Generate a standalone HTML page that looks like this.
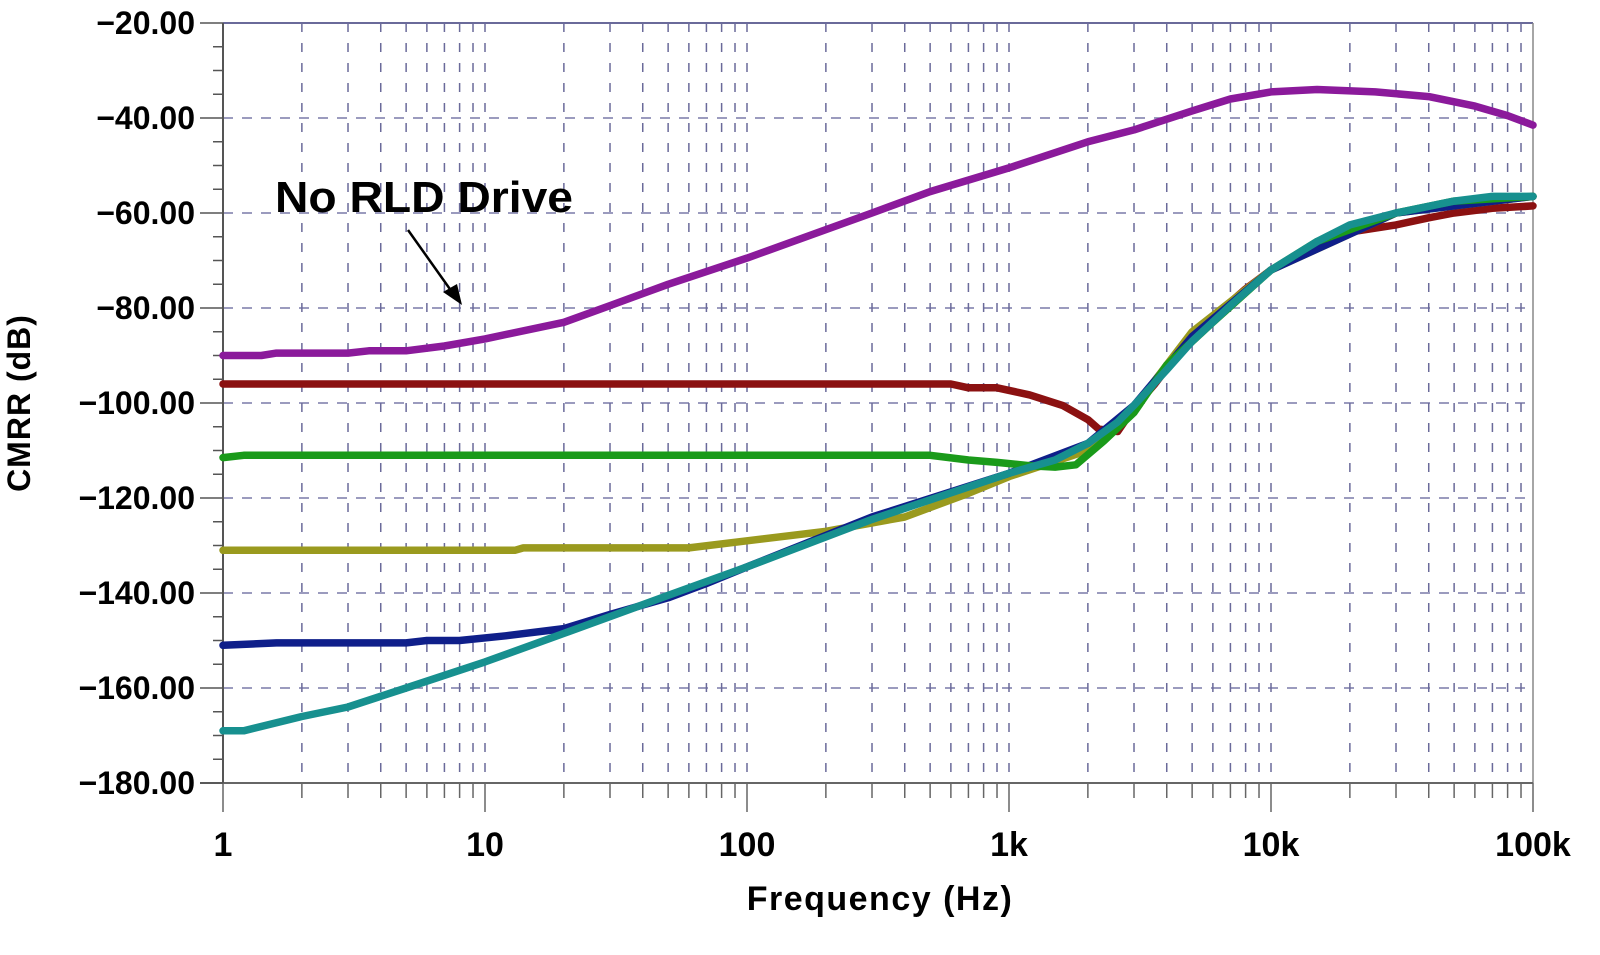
<!DOCTYPE html>
<html><head><meta charset="utf-8"><style>
html,body{margin:0;padding:0;background:#fff;width:1600px;height:955px;overflow:hidden}
</style></head><body>
<svg id="s" width="1600" height="955" xmlns="http://www.w3.org/2000/svg"></svg>
<script>
const X0=223,D=262,Y0=23,PY=95/20;
const fx=f=>X0+Math.log10(f)*D, fy=v=>Y0+(-20-v)*PY;
let h='';
for(let v=-40;v>=-160;v-=20){h+=`<line x1="${X0}" y1="${fy(v)}" x2="${fx(1e5)}" y2="${fy(v)}" stroke="#7a7aa8" stroke-width="1.5" stroke-dasharray="10,9"/>`;}
for(let d=0;d<5;d++)for(let m=2;m<=10;m++){const x=fx(m*Math.pow(10,d));if(d==4&&m==10)continue;
h+=`<line x1="${x}" y1="${Y0}" x2="${x}" y2="783" stroke="#6a6a9a" stroke-width="1.5" stroke-dasharray="9,11"/>`;
h+=`<line x1="${x}" y1="783" x2="${x}" y2="${m==10?812:798}" stroke="#666" stroke-width="1.5"/>`;}
h+=`<line x1="${X0}" y1="783" x2="${X0}" y2="812" stroke="#666" stroke-width="1.5"/>`;
h+=`<line x1="${fx(1e5)}" y1="783" x2="${fx(1e5)}" y2="812" stroke="#666" stroke-width="1.5"/>`;
h+=`<line x1="${X0}" y1="${Y0}" x2="${fx(1e5)}" y2="${Y0}" stroke="#6a6a9a" stroke-width="2"/>`;
h+=`<line x1="${fx(1e5)}" y1="${Y0}" x2="${fx(1e5)}" y2="783" stroke="#888" stroke-width="1.5"/>`;
h+=`<line x1="200" y1="783" x2="${fx(1e5)}" y2="783" stroke="#666" stroke-width="2"/>`;
h+=`<line x1="${X0}" y1="${Y0}" x2="${X0}" y2="783" stroke="#555" stroke-width="2"/>`;
for(let v=-20;v>=-180;v-=5){const y=fy(v);h+=`<line x1="${v%20==0?200:213}" y1="${y}" x2="${X0}" y2="${y}" stroke="#555" stroke-width="1.5"/>`;}
for(let v=-20;v>=-180;v-=20){h+=`<text x="195" y="${fy(v)+11}" text-anchor="end" font-family="Liberation Sans" font-weight="bold" font-size="32">−${(-v).toFixed(2)}</text>`;}
const xl=[['1',1],['10',10],['100',100],['1k',1e3],['10k',1e4],['100k',1e5]];
xl.forEach(([t,f])=>{h+=`<text x="${fx(f)}" y="856" text-anchor="middle" font-family="Liberation Sans" font-weight="bold" font-size="34">${t}</text>`});
h+=`<text x="880" y="910" text-anchor="middle" font-family="Liberation Sans" font-weight="bold" font-size="34" letter-spacing="1.5">Frequency (Hz)</text>`;
h+=`<text transform="translate(30,403) rotate(-90)" text-anchor="middle" font-family="Liberation Sans" font-weight="bold" font-size="32" letter-spacing="1">CMRR (dB)</text>`;
h+=`<text x="275" y="212" font-family="Liberation Sans" font-weight="bold" font-size="44" textLength="298" lengthAdjust="spacingAndGlyphs">No RLD Drive</text>`;
h+=`<line x1="408" y1="230" x2="452" y2="292" stroke="#000" stroke-width="2.5"/><polygon points="462,305 443,292 457,284" fill="#000"/>`;
const S={
purple:['#8b1a9b',[[1,-90],[1.4,-90],[1.6,-89.5],[3,-89.5],[3.6,-89],[5,-89],[7,-88],[10,-86.5],[20,-83],[30,-79.5],[50,-75],[100,-69.5],[200,-63.5],[300,-60],[500,-55.5],[1e3,-50.5],[2e3,-45],[3e3,-42.5],[5e3,-38.5],[7e3,-36],[1e4,-34.5],[1.5e4,-34],[2.5e4,-34.5],[4e4,-35.5],[6e4,-37.5],[8e4,-39.5],[1e5,-41.5]]],
red:['#8b1111',[[1,-96],[600,-96],[700,-96.8],[900,-96.8],[1200,-98.3],[1600,-100.5],[2000,-103.5],[2200,-105.5],[2600,-106],[3e3,-101],[3.6e3,-96],[4.5e3,-89],[6e3,-82],[8e3,-76],[1e4,-72],[1.5e4,-66.5],[2e4,-64],[3e4,-62.5],[4e4,-61],[5e4,-60],[7e4,-59],[1e5,-58.5]]],
olive:['#9a9a1e',[[1,-131],[13,-131],[14,-130.5],[60,-130.5],[100,-129],[200,-127],[400,-124],[700,-119],[1e3,-115.5],[2e3,-110],[3e3,-101],[5e3,-85],[1e4,-72],[3e4,-60],[1e5,-56.5]]],
blue:['#0f1f8a',[[1,-151],[1.6,-150.5],[5,-150.5],[6,-150],[8,-150],[12,-149],[20,-147.5],[30,-144.5],[50,-141],[70,-138],[100,-134.5],[300,-124],[1e3,-114.8],[2e3,-108.5],[3e3,-100.5],[5e3,-86],[1e4,-72],[3e4,-60],[1e5,-56.5]]],
green:['#1a9a1a',[[1,-111.5],[1.2,-111],[500,-111],[700,-112],[900,-112.5],[1200,-113.2],[1500,-113.5],[1800,-113],[2300,-108],[3e3,-102],[4e3,-92],[6e3,-83],[1e4,-72],[1.5e4,-66],[3e4,-60],[5e4,-57.5],[1e5,-56.5]]],
cyan:['#17908f',[[1,-169],[1.2,-169],[2,-166],[3,-164],[5,-160],[10,-154.5],[20,-148.5],[50,-140.5],[100,-134.5],[300,-124.5],[1e3,-114.8],[1.5e3,-112],[2e3,-108.5],[2.6e3,-104],[3e3,-100.5],[4e3,-93],[5e3,-87],[7e3,-79.5],[1e4,-72],[1.5e4,-66],[2e4,-62.5],[3e4,-60],[5e4,-57.5],[7e4,-56.5],[1e5,-56.5]]]};
for(const k of ['purple','red','olive','blue','green','cyan']){const [c,p]=S[k];
h+=`<polyline fill="none" stroke="${c}" stroke-width="7.5" stroke-linejoin="round" stroke-linecap="round" points="${p.map(a=>fx(a[0]).toFixed(1)+','+fy(a[1]).toFixed(1)).join(' ')}"/>`;}
document.getElementById('s').innerHTML=h;
</script>
</body></html>
